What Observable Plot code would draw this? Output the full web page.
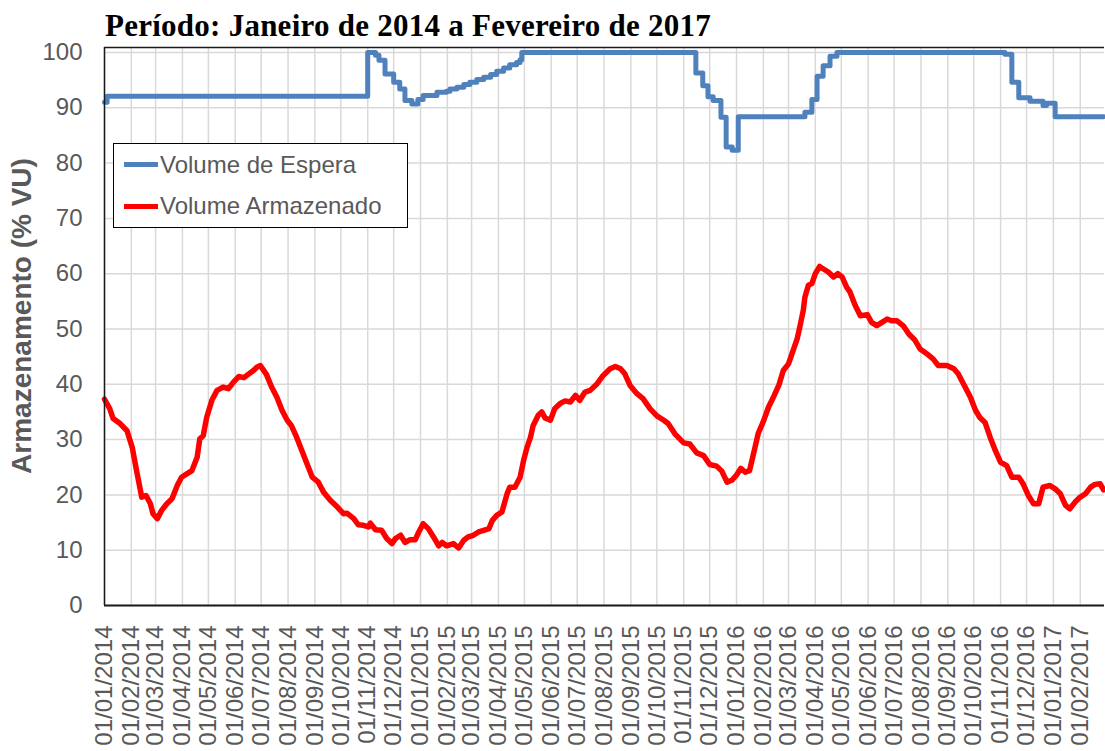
<!DOCTYPE html>
<html>
<head>
<meta charset="utf-8">
<script src="https://cdn.jsdelivr.net/npm/d3@7"></script>
<script src="https://cdn.jsdelivr.net/npm/@observablehq/plot@0.6"></script>
<style>
  body { margin: 0; background: #fff; }
  #wrap { position: relative; width: 1105px; height: 751px; overflow: hidden; font-family: "Liberation Sans", Arial, sans-serif; background: #fff; }
  #title { position: absolute; left: 105px; top: 0; height: 40px; line-height: 52px; font-family: "Liberation Serif", "Times New Roman", serif; font-weight: bold; font-size: 31px; letter-spacing: 0.25px; color: #000; white-space: nowrap; }
  #chart { position: absolute; left: 0; top: 40px; }
  #ylabel { position: absolute; left: 22px; top: 316px; transform: translate(-50%, -50%) rotate(-90deg); font-weight: bold; font-size: 28px; color: #595959; white-space: nowrap; }
  #legend { position: absolute; left: 113px; top: 143px; width: 293px; height: 83px; border: 1.5px solid #000; background: #fff; }
  .row { height: 41.5px; display: flex; align-items: center; padding-left: 10px; }
  .mk { width: 34px; height: 5px; margin-right: 2px; }
  .lt { font-size: 24px; color: #595959; }
</style>
</head>
<body>
<div id="wrap">
  <div id="title">Período: Janeiro de 2014 a Fevereiro de 2017</div>
  <div id="chart"></div>
  <div id="ylabel">Armazenamento (% VU)</div>
  <div id="legend"></div>
</div>
<script>
// ---- Data ----
const seriesNames = ["Volume de Espera", "Volume Armazenado"];
const seriesColors = ["#4F81BD", "#FF0000"];

const xTickLabels = ["01/01/2014","01/02/2014","01/03/2014","01/04/2014","01/05/2014","01/06/2014","01/07/2014","01/08/2014","01/09/2014","01/10/2014","01/11/2014","01/12/2014",
  "01/01/2015","01/02/2015","01/03/2015","01/04/2015","01/05/2015","01/06/2015","01/07/2015","01/08/2015","01/09/2015","01/10/2015","01/11/2015","01/12/2015",
  "01/01/2016","01/02/2016","01/03/2016","01/04/2016","01/05/2016","01/06/2016","01/07/2016","01/08/2016","01/09/2016","01/10/2016","01/11/2016","01/12/2016",
  "01/01/2017","01/02/2017"];
const yTicks = [0, 10, 20, 30, 40, 50, 60, 70, 80, 90, 100];

const esperaDates = ["2014-01-01","2014-01-04","2014-11-01","2014-11-10","2014-11-14","2014-11-21","2014-12-01","2014-12-08","2014-12-14","2014-12-22",
  "2014-12-29","2015-01-04","2015-01-20","2015-01-31","2015-02-04","2015-02-12","2015-02-20","2015-02-27","2015-03-07","2015-03-15",
  "2015-03-23","2015-03-30","2015-04-07","2015-04-14","2015-04-22","2015-04-26","2015-04-28","2015-11-15","2015-11-23","2015-11-29",
  "2015-12-05","2015-12-14","2015-12-20","2015-12-27","2016-01-03","2016-03-20","2016-03-28","2016-04-03","2016-04-10","2016-04-18",
  "2016-04-26","2016-11-06","2016-11-14","2016-11-22","2016-12-05","2016-12-20","2016-12-24","2017-01-03","2017-02-28"];
const esperaValues = [91.0, 92.1, 100, 99.5, 98.6, 96.1, 94.6, 93.4, 91.3, 90.7,
  91.5, 92.2, 92.8, 93.0, 93.4, 93.7, 94.2, 94.6, 95.1, 95.5,
  96.0, 96.6, 97.2, 97.8, 98.2, 98.7, 100, 96.3, 94.0, 92.0,
  91.3, 88.3, 82.9, 82.3, 88.4, 89.2, 91.5, 95.7, 97.6, 99.3,
  100, 99.7, 94.6, 91.8, 91.2, 90.4, 90.8, 88.4, 88.4];

const armazDates = [
  "2014-01-01","2014-01-07","2014-01-11","2014-01-19","2014-01-27","2014-02-02","2014-02-07","2014-02-13","2014-02-18","2014-02-23",
  "2014-02-26","2014-03-03","2014-03-08","2014-03-14","2014-03-20","2014-03-26","2014-03-31","2014-04-06","2014-04-12","2014-04-18",
  "2014-04-21","2014-04-25","2014-04-29","2014-05-05","2014-05-11","2014-05-18","2014-05-24","2014-05-30","2014-06-05","2014-06-11",
  "2014-06-16","2014-06-22","2014-06-26","2014-06-30","2014-07-07","2014-07-13","2014-07-19","2014-07-25","2014-07-31","2014-08-05",
  "2014-08-11","2014-08-17","2014-08-23","2014-08-29","2014-09-05","2014-09-11","2014-09-19","2014-09-27","2014-10-04","2014-10-08",
  "2014-10-16","2014-10-21","2014-10-27","2014-11-02","2014-11-04","2014-11-10","2014-11-17","2014-11-23","2014-11-29","2014-12-03",
  "2014-12-09","2014-12-14","2014-12-20","2014-12-26","2014-12-30","2015-01-04","2015-01-10","2015-01-16","2015-01-22","2015-01-26",
  "2015-01-31","2015-02-08","2015-02-14","2015-02-20","2015-02-25","2015-03-03","2015-03-09","2015-03-15","2015-03-21","2015-03-25",
  "2015-03-30","2015-04-05","2015-04-11","2015-04-14","2015-04-20","2015-04-26","2015-04-30","2015-05-04","2015-05-08","2015-05-11",
  "2015-05-17","2015-05-21","2015-05-25","2015-05-31","2015-06-05","2015-06-11","2015-06-17","2015-06-23","2015-06-29","2015-07-04",
  "2015-07-10","2015-07-16","2015-07-24","2015-07-31","2015-08-08","2015-08-14","2015-08-20","2015-08-25","2015-08-31","2015-09-08",
  "2015-09-15","2015-09-23","2015-10-01","2015-10-09","2015-10-14","2015-10-22","2015-11-01","2015-11-08","2015-11-16","2015-11-24",
  "2015-12-01","2015-12-09","2015-12-15","2015-12-21","2015-12-27","2016-01-01","2016-01-06","2016-01-11","2016-01-16","2016-01-21",
  "2016-01-26","2016-02-01","2016-02-07","2016-02-13","2016-02-19","2016-02-24","2016-03-01","2016-03-05","2016-03-11","2016-03-14",
  "2016-03-18","2016-03-20","2016-03-24","2016-03-28","2016-04-01","2016-04-06","2016-04-10","2016-04-16","2016-04-22","2016-04-27",
  "2016-05-02","2016-05-07","2016-05-11","2016-05-17","2016-05-23","2016-05-31","2016-06-05","2016-06-11","2016-06-17","2016-06-23",
  "2016-06-28","2016-07-04","2016-07-12","2016-07-18","2016-07-25","2016-07-31","2016-08-08","2016-08-15","2016-08-21","2016-08-31",
  "2016-09-08","2016-09-13","2016-09-19","2016-09-27","2016-10-03","2016-10-08","2016-10-14","2016-10-20","2016-10-26","2016-11-01",
  "2016-11-08","2016-11-14","2016-11-22","2016-11-27","2016-12-03","2016-12-09","2016-12-15","2016-12-20","2016-12-28","2017-01-03",
  "2017-01-09","2017-01-15","2017-01-20","2017-01-26","2017-02-01","2017-02-07","2017-02-13","2017-02-18","2017-02-24","2017-02-28"];
const armazValues = [
  37.3, 35.6, 33.8, 32.9, 31.6, 28.6, 24.4, 19.6, 19.9, 18.4,
  16.6, 15.7, 17.2, 18.4, 19.3, 21.7, 23.2, 23.8, 24.4, 26.8,
  30.1, 30.7, 34.0, 37.1, 38.9, 39.5, 39.2, 40.4, 41.4, 41.2,
  41.8, 42.5, 43.1, 43.4, 41.8, 39.5, 37.7, 35.3, 33.5, 32.5,
  30.4, 28.0, 25.6, 23.2, 22.3, 20.5, 19.0, 17.8, 16.6, 16.7,
  15.7, 14.6, 14.5, 14.2, 14.9, 13.7, 13.6, 12.1, 11.2, 12.1,
  12.7, 11.4, 11.9, 11.9, 13.3, 14.8, 13.9, 12.4, 10.8, 11.4,
  10.8, 11.2, 10.4, 11.8, 12.4, 12.7, 13.3, 13.6, 13.9, 15.4,
  16.3, 16.9, 20.2, 21.4, 21.4, 23.2, 26.2, 28.6, 30.4, 32.5,
  34.4, 35.0, 33.9, 33.5, 35.6, 36.5, 37.0, 36.8, 38.0, 37.1,
  38.6, 38.9, 40.1, 41.6, 42.8, 43.2, 42.8, 41.9, 39.8, 38.3,
  37.4, 35.6, 34.3, 33.5, 32.9, 31.0, 29.4, 29.2, 27.6, 27.1,
  25.5, 25.2, 24.3, 22.3, 22.7, 23.6, 24.8, 24.1, 24.4, 27.7,
  31.1, 33.3, 35.9, 37.8, 39.9, 42.5, 43.7, 45.5, 48.2, 50.3,
  53.3, 55.8, 57.9, 58.2, 60.0, 61.3, 60.9, 60.3, 59.4, 60.0,
  59.4, 57.6, 56.7, 54.3, 52.4, 52.6, 51.2, 50.6, 51.2, 51.8,
  51.5, 51.5, 50.5, 49.1, 48.0, 46.4, 45.5, 44.6, 43.4, 43.4,
  42.8, 41.9, 40.1, 37.7, 35.3, 34.0, 33.1, 30.4, 28.0, 25.9,
  25.3, 23.2, 23.2, 22.0, 19.9, 18.4, 18.4, 21.4, 21.7, 21.1,
  20.2, 18.1, 17.5, 18.7, 19.6, 20.2, 21.4, 21.9, 22.0, 20.9];

// ---- Build tables ----
const parseISO = d3.utcParse("%Y-%m-%d");
const parseTick = d3.utcParse("%d/%m/%Y");
const fmtTick = d3.utcFormat("%d/%m/%Y");
const tickDates = xTickLabels.map(parseTick);
const espera = esperaDates.map((d, i) => ({date: parseISO(d), value: esperaValues[i]}));
const armaz = armazDates.map((d, i) => ({date: parseISO(d), value: armazValues[i]}));

const xStart = parseISO("2014-01-01");
const xEnd = parseISO("2017-03-01");
const yTop = 100.9;

const chart = Plot.plot({
  width: 1105,
  height: 711,
  marginLeft: 104,
  marginRight: 1,
  marginTop: 7,
  marginBottom: 146,
  x: {type: "utc", domain: [xStart, xEnd]},
  y: {domain: [0, yTop]},
  style: {fontFamily: "'Liberation Sans', Arial, sans-serif", color: "#595959", background: "transparent", overflow: "visible"},
  marks: [
    Plot.ruleX(tickDates, {x: d => d, stroke: "#d9d9d9", strokeWidth: 1.5}),
    Plot.ruleY(yTicks, {y: d => d, stroke: "#d9d9d9", strokeWidth: 1.5}),
    Plot.line(espera, {x: "date", y: "value", stroke: seriesColors[0], strokeWidth: 5, curve: "step-after"}),
    Plot.line(armaz, {x: "date", y: "value", stroke: seriesColors[1], strokeWidth: 5.5, strokeLinejoin: "round"}),
    Plot.ruleX([xStart], {stroke: "#1a1a1a", strokeWidth: 1.5}),
    Plot.ruleY([0], {stroke: "#1a1a1a", strokeWidth: 2}),
    Plot.ruleY([yTop], {stroke: "#1a1a1a", strokeWidth: 1.5}),
    Plot.axisX(tickDates, {tickFormat: fmtTick, tickRotate: -90, tickSize: 0, tickPadding: 20, fontSize: 24, label: null}),
    Plot.axisY(yTicks, {tickSize: 0, tickPadding: 22, fontSize: 24, label: null})
  ]
});
document.getElementById("chart").appendChild(chart);

// ---- Legend ----
const legend = document.getElementById("legend");
seriesNames.forEach((name, i) => {
  const row = document.createElement("div");
  row.className = "row";
  const mk = document.createElement("div");
  mk.className = "mk";
  mk.style.background = seriesColors[i];
  const lt = document.createElement("span");
  lt.className = "lt";
  lt.textContent = name;
  row.appendChild(mk);
  row.appendChild(lt);
  legend.appendChild(row);
});
</script>
</body>
</html>
